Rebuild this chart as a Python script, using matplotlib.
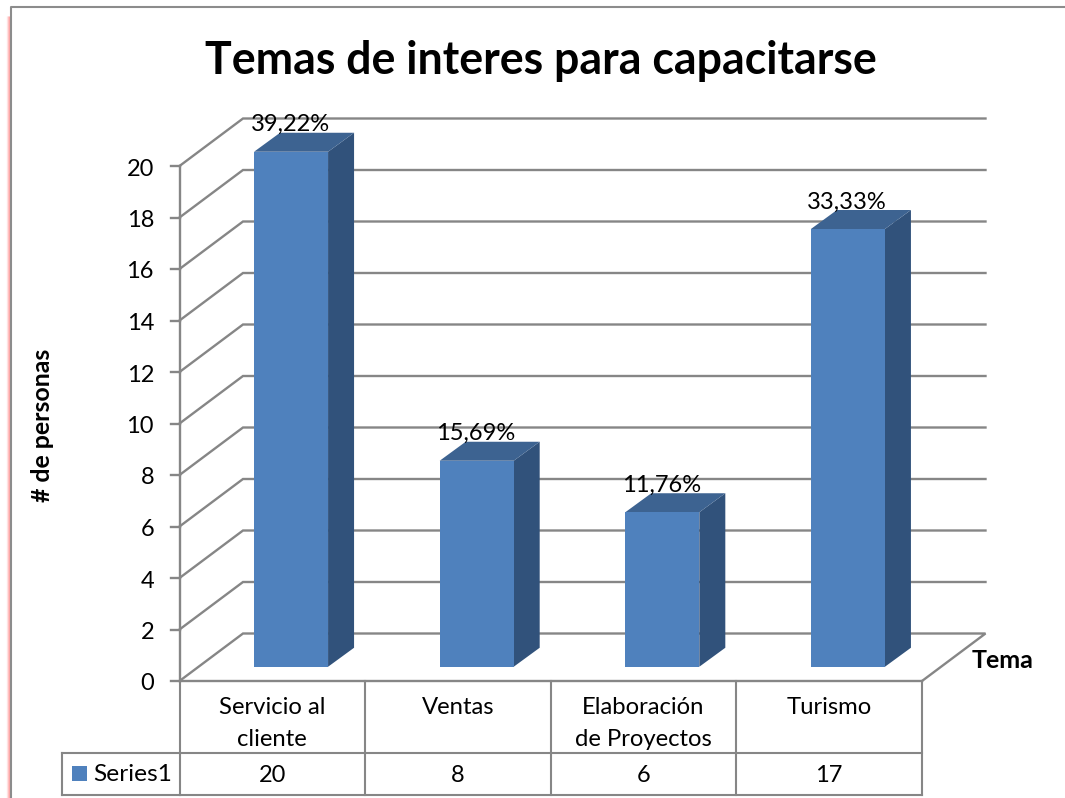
import matplotlib
matplotlib.use("Agg")
import matplotlib.pyplot as plt
from matplotlib.patches import Polygon, Rectangle
from matplotlib.transforms import blended_transform_factory

categories = ["Servicio al\ncliente", "Ventas", "Elaboración\nde Proyectos", "Turismo"]
values = [20, 8, 6, 17]
percent_labels = ["39,22%", "15,69%", "11,76%", "33,33%"]
y_ticks = list(range(0, 21, 2))
series_name = "Series1"
title = "Temas de interes para capacitarse"
x_title = "Tema"
y_title = "# de personas"

W, H = 1065, 798
GRID = "#868686"
FRONT, SIDE, TOP = "#4F81BD", "#31527B", "#3D6391"
plt.rcParams["font.family"] = ["Lato", "DejaVu Sans"]

fig = plt.figure(figsize=(W / 100, H / 100), dpi=100, facecolor="white")

# page frame (pixel-space background axes)
bg = fig.add_axes([0, 0, 1, 1], zorder=0)
bg.set_xlim(0, W); bg.set_ylim(H, 0); bg.axis("off")
for x, c in zip([6.5, 7.5, 8.5], ["#FFE8E8", "#FFC8C8", "#FFA8A8"]):
    bg.plot([x, x], [16, H], color=c, lw=1, solid_capstyle="butt")
bg.plot([10.5, 10.5, W], [H, 6.5, 6.5], color="#8C8C8C", lw=1.5, solid_capstyle="butt")

# plot axes: x in categories, y in values
L, R, Y0, Y20 = 179.5, 922, 681, 166
ax = fig.add_axes([L / W, 1 - Y0 / H, (R - L) / W, (Y0 - Y20) / H], zorder=1)
ax.set_xlim(0, len(categories)); ax.set_ylim(0, 20); ax.axis("off")
ax.patch.set_alpha(0)

ux = (R - L) / len(categories)      # pixels per category
uy = (Y0 - Y20) / 20                # pixels per value unit
DX, DY = 63.5 / ux, 47.5 / uy       # wall depth in data units
bw, bdx, bdy = 74 / ux, 26 / ux, 19 / uy   # bar width and depth
sx, sy = (DX - bdx) / 2, (DY - bdy) / 2    # bar offset inside depth
n = len(categories)

# gridlines: left wall diagonal + back wall
for t in y_ticks:
    ax.plot([0, DX, n + DX] if t > 0 else [0, DX, n + DX, n],
            [t, t + DY, t + DY] if t > 0 else [0, DY, DY, 0],
            color=GRID, lw=1.7, clip_on=False, zorder=1, solid_joinstyle="miter")

# axis lines, ticks
ax.plot([0, 0], [0, 20], color=GRID, lw=1.7, clip_on=False, zorder=2)
ax.plot([0, n], [0, 0], color=GRID, lw=1.7, clip_on=False, zorder=2)
tick = 9 / ux
for t in y_ticks:
    ax.plot([-tick, 0], [t, t], color=GRID, lw=1.7, clip_on=False, zorder=2)
    ax.annotate(str(t), (0, t), xytext=(-25.5, -3), textcoords="offset pixels",
                ha="right", va="center", fontsize=17, color="black", annotation_clip=False)

# bars
for i, v in enumerate(values):
    x0 = i + 0.5 - bw / 2 + sx
    x1 = x0 + bw
    b = sy
    front = Rectangle((x0, b), bw, v, fc=FRONT, ec="none", zorder=3, clip_on=False)
    side = Polygon([(x1, b), (x1 + bdx, b + bdy), (x1 + bdx, b + v + bdy), (x1, b + v)],
                   fc=SIDE, ec="none", zorder=3, clip_on=False)
    top = Polygon([(x0, b + v), (x0 + bdx, b + v + bdy), (x1 + bdx, b + v + bdy), (x1, b + v)],
                  fc=TOP, ec="none", zorder=3, clip_on=False)
    for p in (side, top, front):
        ax.add_patch(p)
    ax.annotate(percent_labels[i], ((x0 + x1) / 2, b + v), xytext=(-1, 27),
                textcoords="offset pixels", ha="center", va="center", fontsize=17,
                color="black", zorder=5, annotation_clip=False)

# data table
bt = blended_transform_factory(ax.transData, bg.transData)
ROW, BOTTOM, LEFT = 753, 795, 62
TW = 1.5
for i in range(n + 1):
    ax.plot([i, i], [Y0, BOTTOM], transform=bt, color=GRID, lw=TW, clip_on=False, zorder=2)
ax.plot([0, n], [ROW, ROW], transform=bt, color=GRID, lw=TW, clip_on=False, zorder=2)
ax.plot([0, n], [BOTTOM, BOTTOM], transform=bt, color=GRID, lw=TW, clip_on=False, zorder=2)
bg.plot([LEFT, L], [ROW, ROW], color=GRID, lw=TW, zorder=2)
bg.plot([LEFT, L], [BOTTOM, BOTTOM], color=GRID, lw=TW, zorder=2)
bg.plot([LEFT, LEFT], [ROW, BOTTOM], color=GRID, lw=TW, zorder=2)
for i, (c, v) in enumerate(zip(categories, values)):
    ax.text(i + 0.5, 697, c, transform=bt, ha="center", va="top", fontsize=17.2,
            linespacing=1.62, clip_on=False)
    ax.text(i + 0.5, 775, str(v), transform=bt, ha="center", va="center", fontsize=17,
            clip_on=False)
bg.add_patch(Rectangle((72, 766), 15, 15, fc=FRONT, ec="none", zorder=3))
bg.text(93, 774.5, series_name, ha="left", va="center", fontsize=17.6)

# titles
bg.text(540.5, 61, title, ha="center", va="center", fontsize=32.1, fontweight="bold")
bg.text(1003, 661, x_title, ha="center", va="center", fontsize=18, fontweight="bold")
bg.text(42.5, 425, y_title, ha="center", va="center", rotation=90, fontsize=17.9, fontweight="bold")

fig.savefig("out.png", dpi=100)
